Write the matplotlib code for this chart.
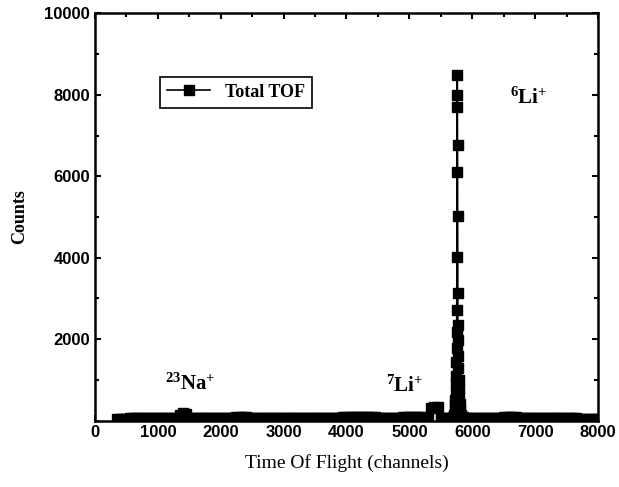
import numpy as np
import matplotlib
matplotlib.use("Agg")
from matplotlib import pyplot as plt
from matplotlib.ticker import MultipleLocator

# baseline channels left of the 6Li peak, step 50
left_ch = np.arange(350, 5651, 50)
left_counts = [40, 45, 50, 50, 55, 55, 55, 60, 60, 60, 60, 60, 60, 65, 65, 65, 65, 65, 70, 75,
               150, 180, 160,
               70, 65, 65, 60, 60, 60, 65, 65, 65, 60, 60, 65, 70, 70, 75, 80, 80,
               85, 80, 75, 70, 65, 65, 60, 60, 60, 60, 55, 55, 55, 60, 60, 60, 60, 60, 60, 55, 55, 55,
               60, 60, 60, 60, 65, 65, 65, 70, 70, 75, 80,
               85, 90, 90, 90, 95, 95, 90, 90, 85, 80, 75, 70, 65, 65, 65, 70, 70, 75, 80, 85, 90,
               90, 90, 85, 80, 75, 70,
               310, 345, 330,
               70, 60, 60, 70]

# 6Li peak
peak_ch = [5700, 5710, 5720, 5725, 5730, 5735, 5740, 5745, 5748, 5750, 5752, 5754, 5756, 5758,
           5760, 5762, 5764, 5766, 5768, 5770, 5772, 5774, 5776, 5780, 5785, 5790, 5795, 5800,
           5810, 5820, 5850]
peak_counts = [80, 150, 260, 380, 510, 700, 920, 1100, 1440, 1780, 2180, 2720, 4020, 6100,
               7700, 8490, 8000, 6770, 5030, 3130, 2350, 1980, 1590, 1300, 1000, 800, 600, 400,
               250, 150, 80]

# baseline right of the peak
right_ch = np.arange(5900, 8001, 50)
right_counts = [70, 65, 60, 60, 60, 60, 65, 65, 65, 65, 70, 75, 80,
                85, 90, 85, 80, 75, 70, 65, 65, 60, 60,
                60, 60, 55, 55, 55, 55, 60, 60, 60, 55, 55, 55, 55, 50, 50, 50, 50, 50, 50, 45]

channels = np.concatenate([left_ch, peak_ch, right_ch])
counts = np.concatenate([left_counts, peak_counts, right_counts])

plt.rcParams['mathtext.fontset'] = 'custom'
plt.rcParams['mathtext.rm'] = 'Liberation Serif'
plt.rcParams['mathtext.bf'] = 'Liberation Serif:bold'

fig = plt.figure(figsize=(6.19, 4.87), dpi=100)
ax = fig.add_axes([0.1535, 0.1363, 0.8125, 0.836])

ax.plot(channels, counts, color='black', lw=1.2, marker='s', ms=6.5, label='Total TOF')

ax.set_xlim(0, 8000)
ax.set_ylim(0, 10000)
ax.set_xticks(range(0, 8001, 1000))
ax.set_yticks(range(2000, 10001, 2000))
ax.xaxis.set_minor_locator(MultipleLocator(500))
ax.yaxis.set_minor_locator(MultipleLocator(1000))
ax.tick_params(which='both', direction='in', top=True, right=True, width=1.5)
ax.tick_params(which='major', length=4.5)
ax.tick_params(which='minor', length=3)
for lab in ax.get_xticklabels() + ax.get_yticklabels():
    lab.set_fontfamily('Liberation Sans')
    lab.set_fontweight('bold')
    lab.set_fontsize(12)
for s in ax.spines.values():
    s.set_linewidth(1.8)

ax.set_xlabel('Time Of Flight (channels)', family='Liberation Serif', fontsize=14, labelpad=10)
ax.set_ylabel('Counts', family='Liberation Serif', fontweight='bold', fontsize=13, labelpad=12)

ax.text(6600, 7950, r'$\mathbf{^{6}Li^{+}}$', fontsize=15, va='center')
ax.text(4630, 880, r'$\mathbf{^{7}Li^{+}}$', fontsize=15, va='center')
ax.text(1110, 930, r'$\mathbf{^{23}Na^{+}}$', fontsize=15, va='center')

leg = ax.legend(loc='upper left', bbox_to_anchor=(0.129, 0.845), borderaxespad=0,
                fancybox=False, edgecolor='black', framealpha=1, borderpad=0.4,
                handlelength=2.4,
                prop={'family': 'Liberation Serif', 'weight': 'bold', 'size': 13})
leg.get_frame().set_linewidth(1.2)

fig.savefig('out.png', dpi=100)
